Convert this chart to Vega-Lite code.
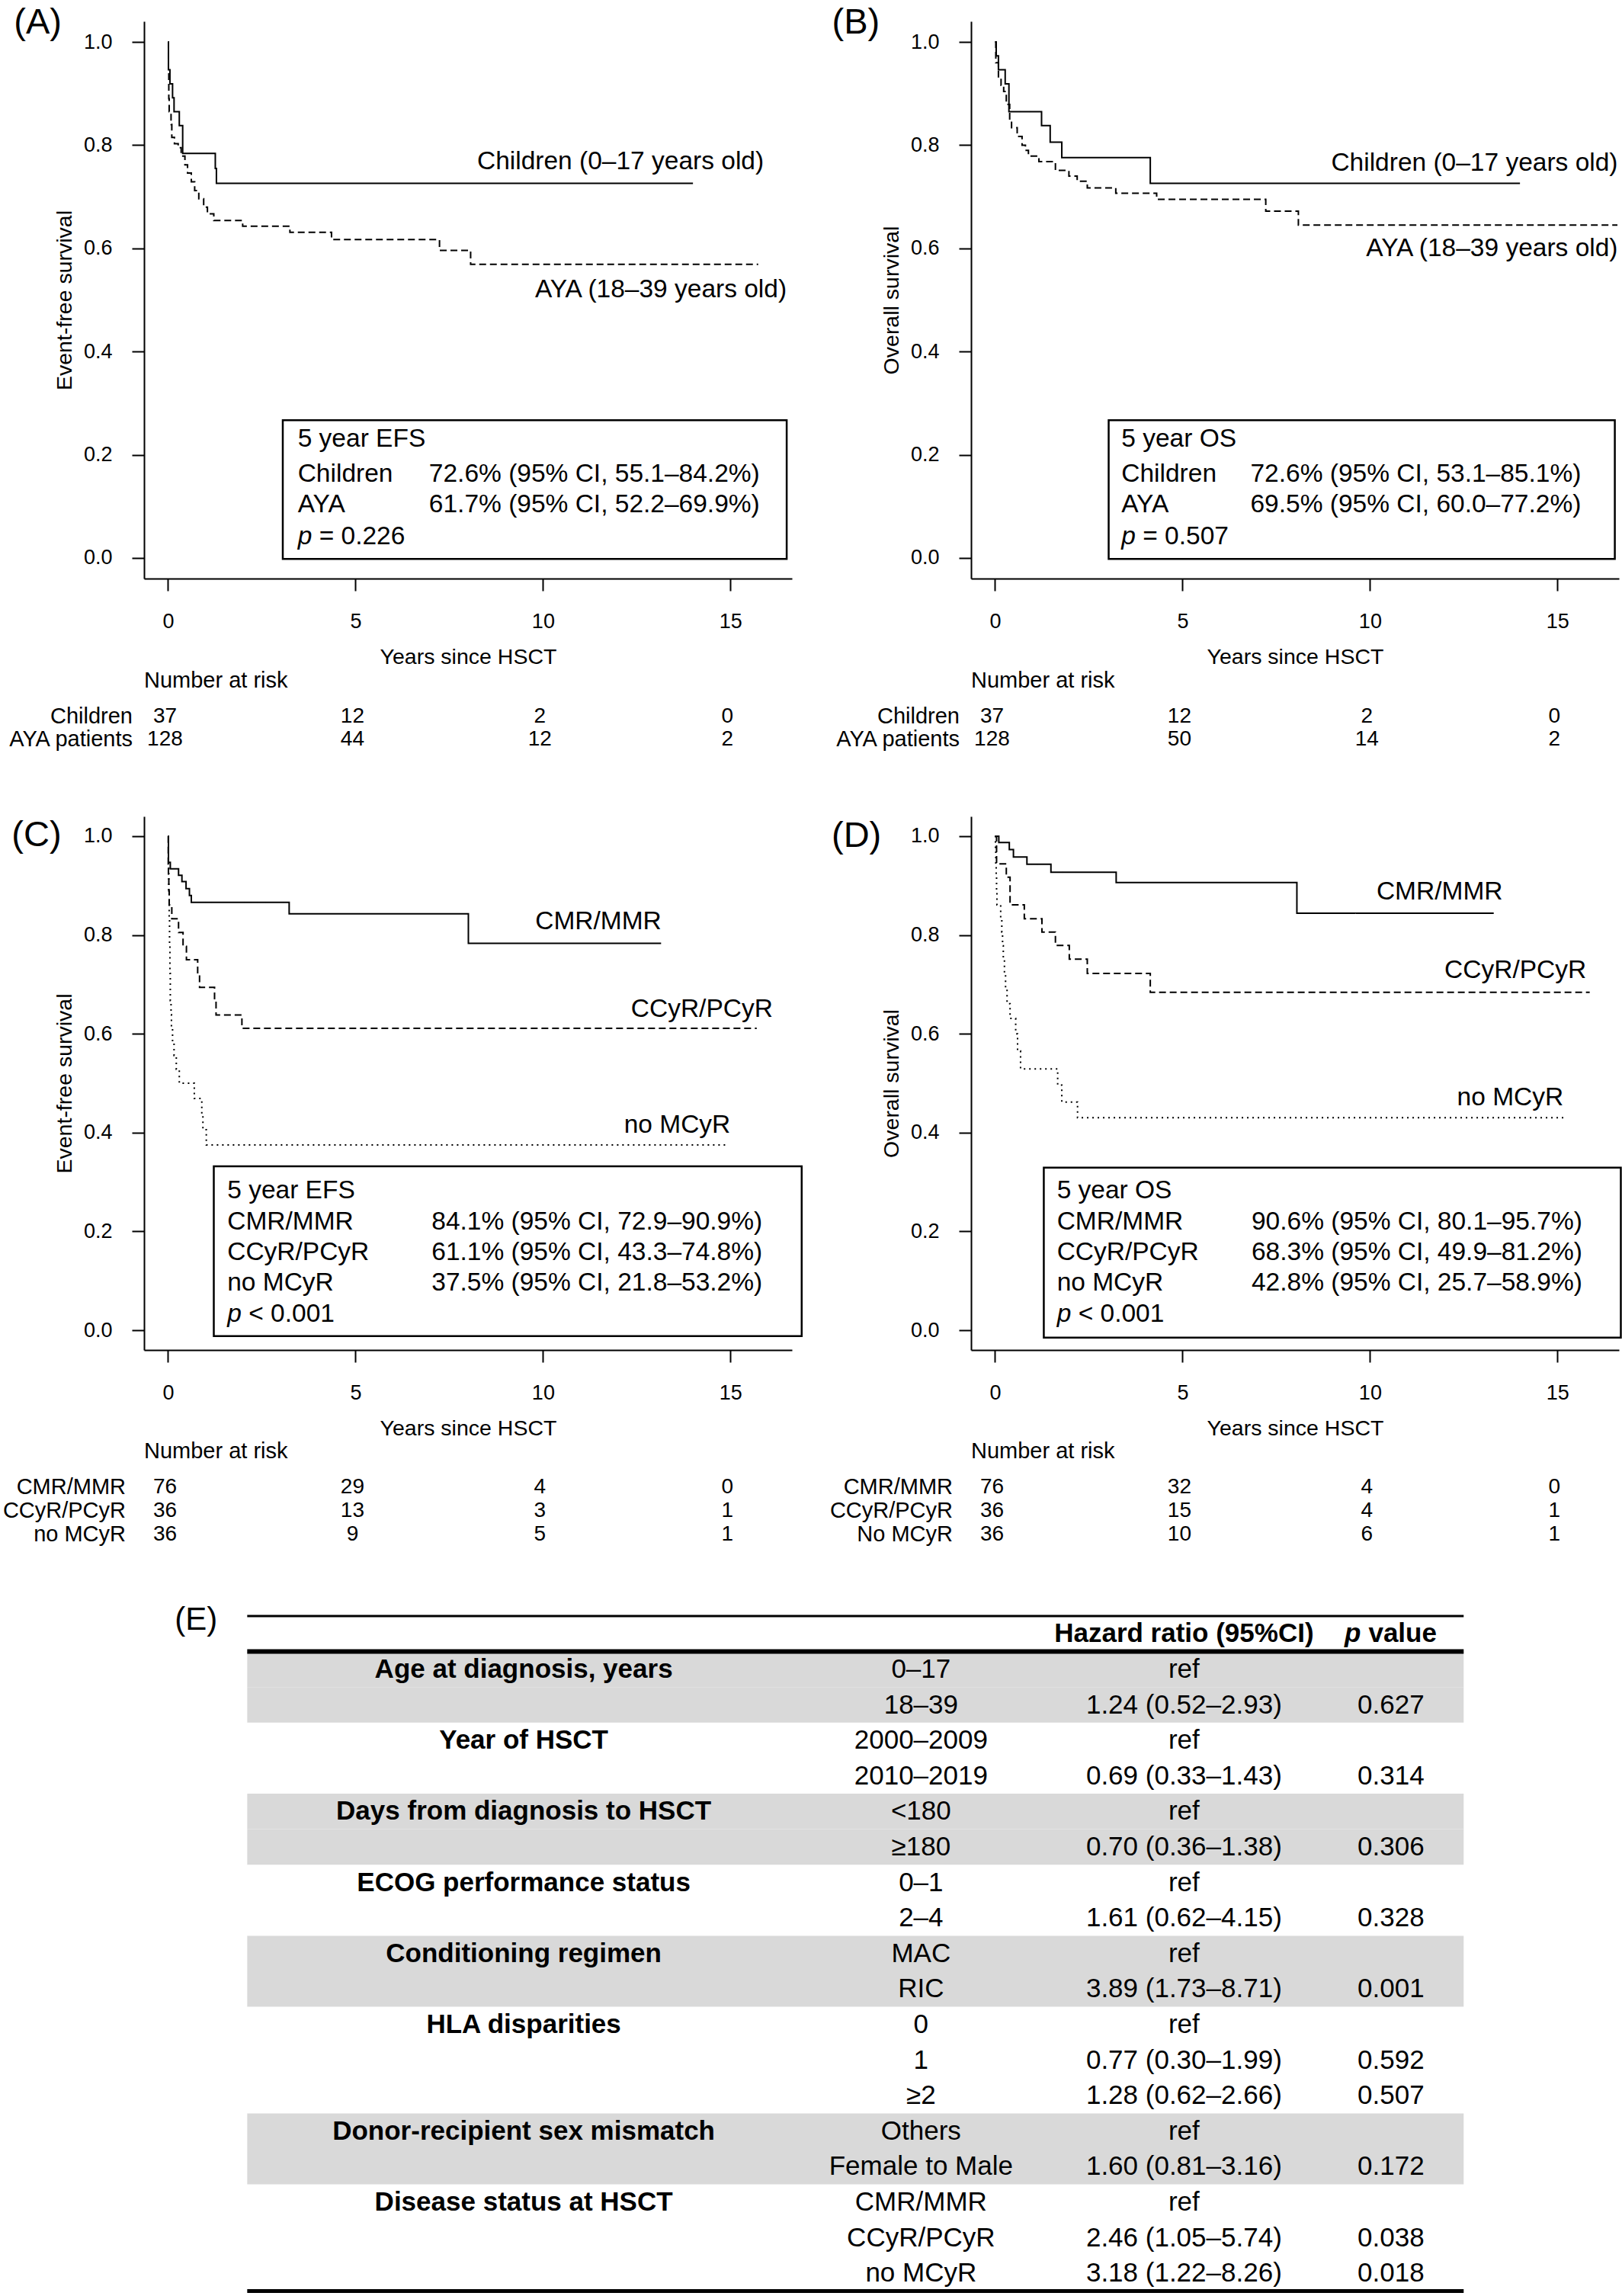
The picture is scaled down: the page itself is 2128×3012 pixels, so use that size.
{
  "$schema": "https://vega.github.io/schema/vega-lite/v6.json",
  "background": "white",
  "padding": {"left": 3, "top": 6, "right": 0, "bottom": 0},
  "columns": 2,
  "align": "none",
  "bounds": "flush",
  "spacing": {"row": 312, "column": 235},
  "datasets": {
    "curves": [
      {"panel":"A","group":"Children","t":0,"s":1},{"panel":"A","group":"Children","t":0.01,"s":0.946},{"panel":"A","group":"Children","t":0.05,"s":0.919},{"panel":"A","group":"Children","t":0.12,"s":0.892},{"panel":"A","group":"Children","t":0.16,"s":0.865},{"panel":"A","group":"Children","t":0.30,"s":0.838},{"panel":"A","group":"Children","t":0.39,"s":0.784},{"panel":"A","group":"Children","t":1.26,"s":0.755},{"panel":"A","group":"Children","t":1.29,"s":0.726},{"panel":"A","group":"Children","t":14.0,"s":0.726},
      {"panel":"A","group":"AYA","t":0,"s":1},{"panel":"A","group":"AYA","t":0.01,"s":0.94},{"panel":"A","group":"AYA","t":0.02,"s":0.89},{"panel":"A","group":"AYA","t":0.03,"s":0.865},{"panel":"A","group":"AYA","t":0.08,"s":0.84},{"panel":"A","group":"AYA","t":0.10,"s":0.815},{"panel":"A","group":"AYA","t":0.17,"s":0.803},{"panel":"A","group":"AYA","t":0.27,"s":0.795},{"panel":"A","group":"AYA","t":0.35,"s":0.779},{"panel":"A","group":"AYA","t":0.45,"s":0.762},{"panel":"A","group":"AYA","t":0.52,"s":0.746},{"panel":"A","group":"AYA","t":0.62,"s":0.729},{"panel":"A","group":"AYA","t":0.71,"s":0.712},{"panel":"A","group":"AYA","t":0.82,"s":0.696},{"panel":"A","group":"AYA","t":0.95,"s":0.680},{"panel":"A","group":"AYA","t":1.05,"s":0.667},{"panel":"A","group":"AYA","t":1.22,"s":0.654},{"panel":"A","group":"AYA","t":1.99,"s":0.643},{"panel":"A","group":"AYA","t":3.25,"s":0.631},{"panel":"A","group":"AYA","t":4.36,"s":0.617},{"panel":"A","group":"AYA","t":7.24,"s":0.596},{"panel":"A","group":"AYA","t":8.07,"s":0.569},{"panel":"A","group":"AYA","t":15.74,"s":0.569},
      {"panel":"B","group":"Children","t":0,"s":1},{"panel":"B","group":"Children","t":0.03,"s":0.973},{"panel":"B","group":"Children","t":0.09,"s":0.946},{"panel":"B","group":"Children","t":0.27,"s":0.919},{"panel":"B","group":"Children","t":0.37,"s":0.865},{"panel":"B","group":"Children","t":1.24,"s":0.838},{"panel":"B","group":"Children","t":1.47,"s":0.806},{"panel":"B","group":"Children","t":1.78,"s":0.776},{"panel":"B","group":"Children","t":4.14,"s":0.726},{"panel":"B","group":"Children","t":14.0,"s":0.726},
      {"panel":"B","group":"AYA","t":0,"s":1},{"panel":"B","group":"AYA","t":0.02,"s":0.96},{"panel":"B","group":"AYA","t":0.09,"s":0.931},{"panel":"B","group":"AYA","t":0.16,"s":0.916},{"panel":"B","group":"AYA","t":0.23,"s":0.904},{"panel":"B","group":"AYA","t":0.30,"s":0.879},{"panel":"B","group":"AYA","t":0.39,"s":0.849},{"panel":"B","group":"AYA","t":0.44,"s":0.834},{"panel":"B","group":"AYA","t":0.59,"s":0.817},{"panel":"B","group":"AYA","t":0.72,"s":0.800},{"panel":"B","group":"AYA","t":0.81,"s":0.790},{"panel":"B","group":"AYA","t":0.89,"s":0.779},{"panel":"B","group":"AYA","t":1.17,"s":0.768},{"panel":"B","group":"AYA","t":1.61,"s":0.751},{"panel":"B","group":"AYA","t":1.97,"s":0.740},{"panel":"B","group":"AYA","t":2.19,"s":0.730},{"panel":"B","group":"AYA","t":2.46,"s":0.717},{"panel":"B","group":"AYA","t":3.22,"s":0.707},{"panel":"B","group":"AYA","t":4.31,"s":0.695},{"panel":"B","group":"AYA","t":7.22,"s":0.672},{"panel":"B","group":"AYA","t":8.09,"s":0.645},{"panel":"B","group":"AYA","t":16.6,"s":0.645},
      {"panel":"C","group":"CMR/MMR","t":0,"s":1},{"panel":"C","group":"CMR/MMR","t":0.01,"s":0.947},{"panel":"C","group":"CMR/MMR","t":0.06,"s":0.934},{"panel":"C","group":"CMR/MMR","t":0.28,"s":0.921},{"panel":"C","group":"CMR/MMR","t":0.37,"s":0.908},{"panel":"C","group":"CMR/MMR","t":0.48,"s":0.894},{"panel":"C","group":"CMR/MMR","t":0.57,"s":0.880},{"panel":"C","group":"CMR/MMR","t":0.62,"s":0.866},{"panel":"C","group":"CMR/MMR","t":3.23,"s":0.843},{"panel":"C","group":"CMR/MMR","t":8.01,"s":0.783},{"panel":"C","group":"CMR/MMR","t":13.15,"s":0.783},
      {"panel":"C","group":"CCyR/PCyR","t":0,"s":1},{"panel":"C","group":"CCyR/PCyR","t":0.005,"s":0.944},{"panel":"C","group":"CCyR/PCyR","t":0.01,"s":0.917},{"panel":"C","group":"CCyR/PCyR","t":0.02,"s":0.889},{"panel":"C","group":"CCyR/PCyR","t":0.03,"s":0.861},{"panel":"C","group":"CCyR/PCyR","t":0.10,"s":0.833},{"panel":"C","group":"CCyR/PCyR","t":0.28,"s":0.805},{"panel":"C","group":"CCyR/PCyR","t":0.40,"s":0.777},{"panel":"C","group":"CCyR/PCyR","t":0.49,"s":0.750},{"panel":"C","group":"CCyR/PCyR","t":0.79,"s":0.722},{"panel":"C","group":"CCyR/PCyR","t":0.84,"s":0.694},{"panel":"C","group":"CCyR/PCyR","t":1.24,"s":0.666},{"panel":"C","group":"CCyR/PCyR","t":1.28,"s":0.638},{"panel":"C","group":"CCyR/PCyR","t":1.97,"s":0.611},{"panel":"C","group":"CCyR/PCyR","t":15.7,"s":0.611},
      {"panel":"C","group":"no MCyR","t":0,"s":1},{"panel":"C","group":"no MCyR","t":0.01,"s":0.944},{"panel":"C","group":"no MCyR","t":0.02,"s":0.889},{"panel":"C","group":"no MCyR","t":0.03,"s":0.833},{"panel":"C","group":"no MCyR","t":0.04,"s":0.778},{"panel":"C","group":"no MCyR","t":0.05,"s":0.722},{"panel":"C","group":"no MCyR","t":0.06,"s":0.667},{"panel":"C","group":"no MCyR","t":0.08,"s":0.639},{"panel":"C","group":"no MCyR","t":0.09,"s":0.611},{"panel":"C","group":"no MCyR","t":0.12,"s":0.583},{"panel":"C","group":"no MCyR","t":0.16,"s":0.556},{"panel":"C","group":"no MCyR","t":0.22,"s":0.528},{"panel":"C","group":"no MCyR","t":0.30,"s":0.500},{"panel":"C","group":"no MCyR","t":0.70,"s":0.469},{"panel":"C","group":"no MCyR","t":0.90,"s":0.438},{"panel":"C","group":"no MCyR","t":0.93,"s":0.406},{"panel":"C","group":"no MCyR","t":1.02,"s":0.375},{"panel":"C","group":"no MCyR","t":14.96,"s":0.375},
      {"panel":"D","group":"CMR/MMR","t":0,"s":1},{"panel":"D","group":"CMR/MMR","t":0.10,"s":0.987},{"panel":"D","group":"CMR/MMR","t":0.38,"s":0.973},{"panel":"D","group":"CMR/MMR","t":0.49,"s":0.958},{"panel":"D","group":"CMR/MMR","t":0.85,"s":0.943},{"panel":"D","group":"CMR/MMR","t":1.49,"s":0.927},{"panel":"D","group":"CMR/MMR","t":3.23,"s":0.906},{"panel":"D","group":"CMR/MMR","t":8.05,"s":0.844},{"panel":"D","group":"CMR/MMR","t":13.3,"s":0.844},
      {"panel":"D","group":"CCyR/PCyR","t":0,"s":1},{"panel":"D","group":"CCyR/PCyR","t":0.04,"s":0.944},{"panel":"D","group":"CCyR/PCyR","t":0.30,"s":0.917},{"panel":"D","group":"CCyR/PCyR","t":0.40,"s":0.861},{"panel":"D","group":"CCyR/PCyR","t":0.78,"s":0.833},{"panel":"D","group":"CCyR/PCyR","t":1.25,"s":0.806},{"panel":"D","group":"CCyR/PCyR","t":1.61,"s":0.779},{"panel":"D","group":"CCyR/PCyR","t":1.98,"s":0.751},{"panel":"D","group":"CCyR/PCyR","t":2.46,"s":0.722},{"panel":"D","group":"CCyR/PCyR","t":4.14,"s":0.684},{"panel":"D","group":"CCyR/PCyR","t":15.86,"s":0.684},
      {"panel":"D","group":"no MCyR","t":0,"s":1},{"panel":"D","group":"no MCyR","t":0.01,"s":0.972},{"panel":"D","group":"no MCyR","t":0.02,"s":0.944},{"panel":"D","group":"no MCyR","t":0.03,"s":0.917},{"panel":"D","group":"no MCyR","t":0.04,"s":0.889},{"panel":"D","group":"no MCyR","t":0.05,"s":0.861},{"panel":"D","group":"no MCyR","t":0.15,"s":0.833},{"panel":"D","group":"no MCyR","t":0.18,"s":0.806},{"panel":"D","group":"no MCyR","t":0.20,"s":0.778},{"panel":"D","group":"no MCyR","t":0.22,"s":0.750},{"panel":"D","group":"no MCyR","t":0.25,"s":0.722},{"panel":"D","group":"no MCyR","t":0.28,"s":0.694},{"panel":"D","group":"no MCyR","t":0.32,"s":0.661},{"panel":"D","group":"no MCyR","t":0.40,"s":0.631},{"panel":"D","group":"no MCyR","t":0.55,"s":0.600},{"panel":"D","group":"no MCyR","t":0.60,"s":0.565},{"panel":"D","group":"no MCyR","t":0.68,"s":0.529},{"panel":"D","group":"no MCyR","t":1.67,"s":0.496},{"panel":"D","group":"no MCyR","t":1.78,"s":0.462},{"panel":"D","group":"no MCyR","t":2.20,"s":0.430},{"panel":"D","group":"no MCyR","t":15.25,"s":0.430}
    ],
    "risk": [
      {"panel":"A","group":"Children","t":0,"n":37},{"panel":"A","group":"Children","t":5,"n":12},{"panel":"A","group":"Children","t":10,"n":2},{"panel":"A","group":"Children","t":15,"n":0},
      {"panel":"A","group":"AYA patients","t":0,"n":128},{"panel":"A","group":"AYA patients","t":5,"n":44},{"panel":"A","group":"AYA patients","t":10,"n":12},{"panel":"A","group":"AYA patients","t":15,"n":2},
      {"panel":"B","group":"Children","t":0,"n":37},{"panel":"B","group":"Children","t":5,"n":12},{"panel":"B","group":"Children","t":10,"n":2},{"panel":"B","group":"Children","t":15,"n":0},
      {"panel":"B","group":"AYA patients","t":0,"n":128},{"panel":"B","group":"AYA patients","t":5,"n":50},{"panel":"B","group":"AYA patients","t":10,"n":14},{"panel":"B","group":"AYA patients","t":15,"n":2},
      {"panel":"C","group":"CMR/MMR","t":0,"n":76},{"panel":"C","group":"CMR/MMR","t":5,"n":29},{"panel":"C","group":"CMR/MMR","t":10,"n":4},{"panel":"C","group":"CMR/MMR","t":15,"n":0},
      {"panel":"C","group":"CCyR/PCyR","t":0,"n":36},{"panel":"C","group":"CCyR/PCyR","t":5,"n":13},{"panel":"C","group":"CCyR/PCyR","t":10,"n":3},{"panel":"C","group":"CCyR/PCyR","t":15,"n":1},
      {"panel":"C","group":"no MCyR","t":0,"n":36},{"panel":"C","group":"no MCyR","t":5,"n":9},{"panel":"C","group":"no MCyR","t":10,"n":5},{"panel":"C","group":"no MCyR","t":15,"n":1},
      {"panel":"D","group":"CMR/MMR","t":0,"n":76},{"panel":"D","group":"CMR/MMR","t":5,"n":32},{"panel":"D","group":"CMR/MMR","t":10,"n":4},{"panel":"D","group":"CMR/MMR","t":15,"n":0},
      {"panel":"D","group":"CCyR/PCyR","t":0,"n":36},{"panel":"D","group":"CCyR/PCyR","t":5,"n":15},{"panel":"D","group":"CCyR/PCyR","t":10,"n":4},{"panel":"D","group":"CCyR/PCyR","t":15,"n":1},
      {"panel":"D","group":"No MCyR","t":0,"n":36},{"panel":"D","group":"No MCyR","t":5,"n":10},{"panel":"D","group":"No MCyR","t":10,"n":6},{"panel":"D","group":"No MCyR","t":15,"n":1}
    ],
    "table": [
      {"rid":"r01","var":"Age at diagnosis, years","cat":"0–17","hr":"ref","p":"","shade":true},
      {"rid":"r02","var":"","cat":"18–39","hr":"1.24 (0.52–2.93)","p":"0.627","shade":true},
      {"rid":"r03","var":"Year of HSCT","cat":"2000–2009","hr":"ref","p":"","shade":false},
      {"rid":"r04","var":"","cat":"2010–2019","hr":"0.69 (0.33–1.43)","p":"0.314","shade":false},
      {"rid":"r05","var":"Days from diagnosis to HSCT","cat":"<180","hr":"ref","p":"","shade":true},
      {"rid":"r06","var":"","cat":"≥180","hr":"0.70 (0.36–1.38)","p":"0.306","shade":true},
      {"rid":"r07","var":"ECOG performance status","cat":"0–1","hr":"ref","p":"","shade":false},
      {"rid":"r08","var":"","cat":"2–4","hr":"1.61 (0.62–4.15)","p":"0.328","shade":false},
      {"rid":"r09","var":"Conditioning regimen","cat":"MAC","hr":"ref","p":"","shade":true},
      {"rid":"r10","var":"","cat":"RIC","hr":"3.89 (1.73–8.71)","p":"0.001","shade":true},
      {"rid":"r11","var":"HLA disparities","cat":"0","hr":"ref","p":"","shade":false},
      {"rid":"r12","var":"","cat":"1","hr":"0.77 (0.30–1.99)","p":"0.592","shade":false},
      {"rid":"r13","var":"","cat":"≥2","hr":"1.28 (0.62–2.66)","p":"0.507","shade":false},
      {"rid":"r14","var":"Donor-recipient sex mismatch","cat":"Others","hr":"ref","p":"","shade":true},
      {"rid":"r15","var":"","cat":"Female to Male","hr":"1.60 (0.81–3.16)","p":"0.172","shade":true},
      {"rid":"r16","var":"Disease status at HSCT","cat":"CMR/MMR","hr":"ref","p":"","shade":false},
      {"rid":"r17","var":"","cat":"CCyR/PCyR","hr":"2.46 (1.05–5.74)","p":"0.038","shade":false},
      {"rid":"r18","var":"","cat":"no MCyR","hr":"3.18 (1.22–8.26)","p":"0.018","shade":false}
    ]
  },
  "concat": [
    {
      "width": 850, "height": 731,
      "layer": [
        {"data": {"name": "curves"}, "transform": [{"filter": "datum.panel === 'A'"}],
         "mark": {"type": "line", "interpolate": "step-after", "strokeWidth": 2, "color": "black"},
         "encoding": {
           "x": {"field": "t", "type": "quantitative", "scale": {"domain": [-0.64, 16.64], "nice": false, "zero": false}, "axis": {"values": [0, 5, 10, 15], "title": "Years since HSCT"}},
           "y": {"field": "s", "type": "quantitative", "scale": {"domain": [-0.04, 1.04], "nice": false, "zero": false}, "axis": {"values": [0, 0.2, 0.4, 0.6, 0.8, 1], "format": ".1f", "title": "Event-free survival"}},
           "strokeDash": {"field": "group", "type": "nominal", "scale": {"domain": ["Children", "AYA", "CMR/MMR", "CCyR/PCyR", "no MCyR"], "range": [[1, 0], [9, 5], [1, 0], [9, 5], [2, 5]]}, "legend": null}
         }},
        {"data": {"values": [{}]}, "mark": {"type": "text", "align": "right"}, "encoding": {"x": {"datum": 15.89}, "y": {"datum": 0.768}, "text": {"value": "Children (0–17 years old)"}}},
        {"data": {"values": [{}]}, "mark": {"type": "text", "align": "right"}, "encoding": {"x": {"datum": 16.5}, "y": {"datum": 0.52}, "text": {"value": "AYA (18–39 years old)"}}},
        {"data": {"values": [{}]}, "mark": {"type": "rect", "fill": "white", "stroke": "black", "strokeWidth": 2.5}, "encoding": {"x": {"datum": 3.06}, "x2": {"datum": 16.5}, "y": {"datum": 0.267}, "y2": {"datum": -0.002}}},
        {"data": {"values": [{}]}, "mark": {"type": "text", "align": "left"}, "encoding": {"x": {"datum": 3.46}, "y": {"datum": 0.2298}, "text": {"value": "5 year EFS"}}},
        {"data": {"values": [{}]}, "mark": {"type": "text", "align": "left"}, "encoding": {"x": {"datum": 3.46}, "y": {"datum": 0.1618}, "text": {"value": "Children"}}},
        {"data": {"values": [{}]}, "mark": {"type": "text", "align": "left"}, "encoding": {"x": {"datum": 6.96}, "y": {"datum": 0.1618}, "text": {"value": "72.6% (95% CI, 55.1–84.2%)"}}},
        {"data": {"values": [{}]}, "mark": {"type": "text", "align": "left"}, "encoding": {"x": {"datum": 3.46}, "y": {"datum": 0.1027}, "text": {"value": "AYA"}}},
        {"data": {"values": [{}]}, "mark": {"type": "text", "align": "left"}, "encoding": {"x": {"datum": 6.96}, "y": {"datum": 0.1027}, "text": {"value": "61.7% (95% CI, 52.2–69.9%)"}}},
        {"data": {"values": [{}]}, "mark": {"type": "text", "align": "left", "fontStyle": "italic"}, "encoding": {"x": {"datum": 3.46}, "y": {"datum": 0.0412}, "text": {"value": "p"}}},
        {"data": {"values": [{}]}, "mark": {"type": "text", "align": "left", "dx": 28}, "encoding": {"x": {"datum": 3.46}, "y": {"datum": 0.0412}, "text": {"value": "= 0.226"}}},
        {"data": {"values": [{}]}, "mark": {"type": "text", "align": "left", "fontSize": 47}, "encoding": {"x": {"datum": -4.11}, "y": {"datum": 1.037}, "text": {"value": "(A)"}}},
        {"data": {"values": [{}]}, "mark": {"type": "text", "align": "left", "fontSize": 29}, "encoding": {"x": {"datum": -0.64}, "y": {"datum": -0.238}, "text": {"value": "Number at risk"}}},
        {"data": {"values": [{}]}, "mark": {"type": "text", "align": "right", "fontSize": 29, "dx": -15}, "encoding": {"x": {"datum": -0.64}, "y": {"datum": -0.3074}, "text": {"value": "Children"}}},
        {"data": {"values": [{}]}, "mark": {"type": "text", "align": "right", "fontSize": 29, "dx": -15}, "encoding": {"x": {"datum": -0.64}, "y": {"datum": -0.351}, "text": {"value": "AYA patients"}}},
        {"data": {"name": "risk"}, "transform": [{"filter": "datum.panel === 'A' && datum.group === 'Children'"}], "mark": {"type": "text", "fontSize": 28, "dx": -4}, "encoding": {"x": {"field": "t", "type": "quantitative"}, "y": {"datum": -0.3074}, "text": {"field": "n"}}},
        {"data": {"name": "risk"}, "transform": [{"filter": "datum.panel === 'A' && datum.group === 'AYA patients'"}], "mark": {"type": "text", "fontSize": 28, "dx": -4}, "encoding": {"x": {"field": "t", "type": "quantitative"}, "y": {"datum": -0.351}, "text": {"field": "n"}}}
      ]
    },
    {
      "width": 850, "height": 731,
      "layer": [
        {"data": {"name": "curves"}, "transform": [{"filter": "datum.panel === 'B'"}],
         "mark": {"type": "line", "interpolate": "step-after", "strokeWidth": 2, "color": "black"},
         "encoding": {
           "x": {"field": "t", "type": "quantitative", "scale": {"domain": [-0.64, 16.64], "nice": false, "zero": false}, "axis": {"values": [0, 5, 10, 15], "title": "Years since HSCT"}},
           "y": {"field": "s", "type": "quantitative", "scale": {"domain": [-0.04, 1.04], "nice": false, "zero": false}, "axis": {"values": [0, 0.2, 0.4, 0.6, 0.8, 1], "format": ".1f", "title": "Overall survival"}},
           "strokeDash": {"field": "group", "type": "nominal", "scale": {"domain": ["Children", "AYA", "CMR/MMR", "CCyR/PCyR", "no MCyR"], "range": [[1, 0], [9, 5], [1, 0], [9, 5], [2, 5]]}, "legend": null}
         }},
        {"data": {"values": [{}]}, "mark": {"type": "text", "align": "right"}, "encoding": {"x": {"datum": 16.61}, "y": {"datum": 0.765}, "text": {"value": "Children (0–17 years old)"}}},
        {"data": {"values": [{}]}, "mark": {"type": "text", "align": "right"}, "encoding": {"x": {"datum": 16.61}, "y": {"datum": 0.6}, "text": {"value": "AYA (18–39 years old)"}}},
        {"data": {"values": [{}]}, "mark": {"type": "rect", "fill": "white", "stroke": "black", "strokeWidth": 2.5}, "encoding": {"x": {"datum": 3.03}, "x2": {"datum": 16.53}, "y": {"datum": 0.267}, "y2": {"datum": -0.002}}},
        {"data": {"values": [{}]}, "mark": {"type": "text", "align": "left"}, "encoding": {"x": {"datum": 3.37}, "y": {"datum": 0.2298}, "text": {"value": "5 year OS"}}},
        {"data": {"values": [{}]}, "mark": {"type": "text", "align": "left"}, "encoding": {"x": {"datum": 3.37}, "y": {"datum": 0.1618}, "text": {"value": "Children"}}},
        {"data": {"values": [{}]}, "mark": {"type": "text", "align": "left"}, "encoding": {"x": {"datum": 6.81}, "y": {"datum": 0.1618}, "text": {"value": "72.6% (95% CI, 53.1–85.1%)"}}},
        {"data": {"values": [{}]}, "mark": {"type": "text", "align": "left"}, "encoding": {"x": {"datum": 3.37}, "y": {"datum": 0.1027}, "text": {"value": "AYA"}}},
        {"data": {"values": [{}]}, "mark": {"type": "text", "align": "left"}, "encoding": {"x": {"datum": 6.81}, "y": {"datum": 0.1027}, "text": {"value": "69.5% (95% CI, 60.0–77.2%)"}}},
        {"data": {"values": [{}]}, "mark": {"type": "text", "align": "left", "fontStyle": "italic"}, "encoding": {"x": {"datum": 3.37}, "y": {"datum": 0.0412}, "text": {"value": "p"}}},
        {"data": {"values": [{}]}, "mark": {"type": "text", "align": "left", "dx": 28}, "encoding": {"x": {"datum": 3.37}, "y": {"datum": 0.0412}, "text": {"value": "= 0.507"}}},
        {"data": {"values": [{}]}, "mark": {"type": "text", "align": "left", "fontSize": 47}, "encoding": {"x": {"datum": -4.35}, "y": {"datum": 1.037}, "text": {"value": "(B)"}}},
        {"data": {"values": [{}]}, "mark": {"type": "text", "align": "left", "fontSize": 29}, "encoding": {"x": {"datum": -0.64}, "y": {"datum": -0.238}, "text": {"value": "Number at risk"}}},
        {"data": {"values": [{}]}, "mark": {"type": "text", "align": "right", "fontSize": 29, "dx": -15}, "encoding": {"x": {"datum": -0.64}, "y": {"datum": -0.3074}, "text": {"value": "Children"}}},
        {"data": {"values": [{}]}, "mark": {"type": "text", "align": "right", "fontSize": 29, "dx": -15}, "encoding": {"x": {"datum": -0.64}, "y": {"datum": -0.351}, "text": {"value": "AYA patients"}}},
        {"data": {"name": "risk"}, "transform": [{"filter": "datum.panel === 'B' && datum.group === 'Children'"}], "mark": {"type": "text", "fontSize": 28, "dx": -4}, "encoding": {"x": {"field": "t", "type": "quantitative"}, "y": {"datum": -0.3074}, "text": {"field": "n"}}},
        {"data": {"name": "risk"}, "transform": [{"filter": "datum.panel === 'B' && datum.group === 'AYA patients'"}], "mark": {"type": "text", "fontSize": 28, "dx": -4}, "encoding": {"x": {"field": "t", "type": "quantitative"}, "y": {"datum": -0.351}, "text": {"field": "n"}}}
      ]
    },
    {
      "width": 850, "height": 700,
      "layer": [
        {"data": {"name": "curves"}, "transform": [{"filter": "datum.panel === 'C'"}],
         "mark": {"type": "line", "interpolate": "step-after", "strokeWidth": 2, "color": "black"},
         "encoding": {
           "x": {"field": "t", "type": "quantitative", "scale": {"domain": [-0.64, 16.64], "nice": false, "zero": false}, "axis": {"values": [0, 5, 10, 15], "title": "Years since HSCT"}},
           "y": {"field": "s", "type": "quantitative", "scale": {"domain": [-0.04, 1.04], "nice": false, "zero": false}, "axis": {"values": [0, 0.2, 0.4, 0.6, 0.8, 1], "format": ".1f", "title": "Event-free survival"}},
           "strokeDash": {"field": "group", "type": "nominal", "scale": {"domain": ["Children", "AYA", "CMR/MMR", "CCyR/PCyR", "no MCyR"], "range": [[1, 0], [9, 5], [1, 0], [9, 5], [2, 5]]}, "legend": null}
         }},
        {"data": {"values": [{}]}, "mark": {"type": "text", "align": "right"}, "encoding": {"x": {"datum": 13.16}, "y": {"datum": 0.827}, "text": {"value": "CMR/MMR"}}},
        {"data": {"values": [{}]}, "mark": {"type": "text", "align": "right"}, "encoding": {"x": {"datum": 16.13}, "y": {"datum": 0.649}, "text": {"value": "CCyR/PCyR"}}},
        {"data": {"values": [{}]}, "mark": {"type": "text", "align": "right"}, "encoding": {"x": {"datum": 15.0}, "y": {"datum": 0.415}, "text": {"value": "no MCyR"}}},
        {"data": {"values": [{}]}, "mark": {"type": "rect", "fill": "white", "stroke": "black", "strokeWidth": 2.5}, "encoding": {"x": {"datum": 1.22}, "x2": {"datum": 16.9}, "y": {"datum": 0.332}, "y2": {"datum": -0.012}}},
        {"data": {"values": [{}]}, "mark": {"type": "text", "align": "left"}, "encoding": {"x": {"datum": 1.58}, "y": {"datum": 0.2817}, "text": {"value": "5 year EFS"}}},
        {"data": {"values": [{}]}, "mark": {"type": "text", "align": "left"}, "encoding": {"x": {"datum": 1.58}, "y": {"datum": 0.2195}, "text": {"value": "CMR/MMR"}}},
        {"data": {"values": [{}]}, "mark": {"type": "text", "align": "left"}, "encoding": {"x": {"datum": 7.03}, "y": {"datum": 0.2195}, "text": {"value": "84.1% (95% CI, 72.9–90.9%)"}}},
        {"data": {"values": [{}]}, "mark": {"type": "text", "align": "left"}, "encoding": {"x": {"datum": 1.58}, "y": {"datum": 0.1573}, "text": {"value": "CCyR/PCyR"}}},
        {"data": {"values": [{}]}, "mark": {"type": "text", "align": "left"}, "encoding": {"x": {"datum": 7.03}, "y": {"datum": 0.1573}, "text": {"value": "61.1% (95% CI, 43.3–74.8%)"}}},
        {"data": {"values": [{}]}, "mark": {"type": "text", "align": "left"}, "encoding": {"x": {"datum": 1.58}, "y": {"datum": 0.0951}, "text": {"value": "no MCyR"}}},
        {"data": {"values": [{}]}, "mark": {"type": "text", "align": "left"}, "encoding": {"x": {"datum": 7.03}, "y": {"datum": 0.0951}, "text": {"value": "37.5% (95% CI, 21.8–53.2%)"}}},
        {"data": {"values": [{}]}, "mark": {"type": "text", "align": "left", "fontStyle": "italic"}, "encoding": {"x": {"datum": 1.58}, "y": {"datum": 0.0329}, "text": {"value": "p"}}},
        {"data": {"values": [{}]}, "mark": {"type": "text", "align": "left", "dx": 28}, "encoding": {"x": {"datum": 1.58}, "y": {"datum": 0.0329}, "text": {"value": "< 0.001"}}},
        {"data": {"values": [{}]}, "mark": {"type": "text", "align": "left", "fontSize": 47}, "encoding": {"x": {"datum": -4.17}, "y": {"datum": 1.002}, "text": {"value": "(C)"}}},
        {"data": {"values": [{}]}, "mark": {"type": "text", "align": "left", "fontSize": 29}, "encoding": {"x": {"datum": -0.64}, "y": {"datum": -0.2452}, "text": {"value": "Number at risk"}}},
        {"data": {"values": [{}]}, "mark": {"type": "text", "align": "right", "fontSize": 29, "dx": -24}, "encoding": {"x": {"datum": -0.64}, "y": {"datum": -0.3177}, "text": {"value": "CMR/MMR"}}},
        {"data": {"values": [{}]}, "mark": {"type": "text", "align": "right", "fontSize": 29, "dx": -24}, "encoding": {"x": {"datum": -0.64}, "y": {"datum": -0.3654}, "text": {"value": "CCyR/PCyR"}}},
        {"data": {"values": [{}]}, "mark": {"type": "text", "align": "right", "fontSize": 29, "dx": -24}, "encoding": {"x": {"datum": -0.64}, "y": {"datum": -0.4132}, "text": {"value": "no MCyR"}}},
        {"data": {"name": "risk"}, "transform": [{"filter": "datum.panel === 'C' && datum.group === 'CMR/MMR'"}], "mark": {"type": "text", "fontSize": 28, "dx": -4}, "encoding": {"x": {"field": "t", "type": "quantitative"}, "y": {"datum": -0.3177}, "text": {"field": "n"}}},
        {"data": {"name": "risk"}, "transform": [{"filter": "datum.panel === 'C' && datum.group === 'CCyR/PCyR'"}], "mark": {"type": "text", "fontSize": 28, "dx": -4}, "encoding": {"x": {"field": "t", "type": "quantitative"}, "y": {"datum": -0.3654}, "text": {"field": "n"}}},
        {"data": {"name": "risk"}, "transform": [{"filter": "datum.panel === 'C' && datum.group === 'no MCyR'"}], "mark": {"type": "text", "fontSize": 28, "dx": -4}, "encoding": {"x": {"field": "t", "type": "quantitative"}, "y": {"datum": -0.4132}, "text": {"field": "n"}}}
      ]
    },
    {
      "width": 850, "height": 700,
      "layer": [
        {"data": {"name": "curves"}, "transform": [{"filter": "datum.panel === 'D'"}],
         "mark": {"type": "line", "interpolate": "step-after", "strokeWidth": 2, "color": "black"},
         "encoding": {
           "x": {"field": "t", "type": "quantitative", "scale": {"domain": [-0.64, 16.64], "nice": false, "zero": false}, "axis": {"values": [0, 5, 10, 15], "title": "Years since HSCT"}},
           "y": {"field": "s", "type": "quantitative", "scale": {"domain": [-0.04, 1.04], "nice": false, "zero": false}, "axis": {"values": [0, 0.2, 0.4, 0.6, 0.8, 1], "format": ".1f", "title": "Overall survival"}},
           "strokeDash": {"field": "group", "type": "nominal", "scale": {"domain": ["Children", "AYA", "CMR/MMR", "CCyR/PCyR", "no MCyR"], "range": [[1, 0], [9, 5], [1, 0], [9, 5], [2, 5]]}, "legend": null}
         }},
        {"data": {"values": [{}]}, "mark": {"type": "text", "align": "right"}, "encoding": {"x": {"datum": 13.54}, "y": {"datum": 0.887}, "text": {"value": "CMR/MMR"}}},
        {"data": {"values": [{}]}, "mark": {"type": "text", "align": "right"}, "encoding": {"x": {"datum": 15.77}, "y": {"datum": 0.728}, "text": {"value": "CCyR/PCyR"}}},
        {"data": {"values": [{}]}, "mark": {"type": "text", "align": "right"}, "encoding": {"x": {"datum": 15.16}, "y": {"datum": 0.471}, "text": {"value": "no MCyR"}}},
        {"data": {"values": [{}]}, "mark": {"type": "rect", "fill": "white", "stroke": "black", "strokeWidth": 2.5}, "encoding": {"x": {"datum": 1.3}, "x2": {"datum": 16.69}, "y": {"datum": 0.329}, "y2": {"datum": -0.015}}},
        {"data": {"values": [{}]}, "mark": {"type": "text", "align": "left"}, "encoding": {"x": {"datum": 1.65}, "y": {"datum": 0.2817}, "text": {"value": "5 year OS"}}},
        {"data": {"values": [{}]}, "mark": {"type": "text", "align": "left"}, "encoding": {"x": {"datum": 1.65}, "y": {"datum": 0.2195}, "text": {"value": "CMR/MMR"}}},
        {"data": {"values": [{}]}, "mark": {"type": "text", "align": "left"}, "encoding": {"x": {"datum": 6.84}, "y": {"datum": 0.2195}, "text": {"value": "90.6% (95% CI, 80.1–95.7%)"}}},
        {"data": {"values": [{}]}, "mark": {"type": "text", "align": "left"}, "encoding": {"x": {"datum": 1.65}, "y": {"datum": 0.1573}, "text": {"value": "CCyR/PCyR"}}},
        {"data": {"values": [{}]}, "mark": {"type": "text", "align": "left"}, "encoding": {"x": {"datum": 6.84}, "y": {"datum": 0.1573}, "text": {"value": "68.3% (95% CI, 49.9–81.2%)"}}},
        {"data": {"values": [{}]}, "mark": {"type": "text", "align": "left"}, "encoding": {"x": {"datum": 1.65}, "y": {"datum": 0.0951}, "text": {"value": "no MCyR"}}},
        {"data": {"values": [{}]}, "mark": {"type": "text", "align": "left"}, "encoding": {"x": {"datum": 6.84}, "y": {"datum": 0.0951}, "text": {"value": "42.8% (95% CI, 25.7–58.9%)"}}},
        {"data": {"values": [{}]}, "mark": {"type": "text", "align": "left", "fontStyle": "italic"}, "encoding": {"x": {"datum": 1.65}, "y": {"datum": 0.0329}, "text": {"value": "p"}}},
        {"data": {"values": [{}]}, "mark": {"type": "text", "align": "left", "dx": 28}, "encoding": {"x": {"datum": 1.65}, "y": {"datum": 0.0329}, "text": {"value": "< 0.001"}}},
        {"data": {"values": [{}]}, "mark": {"type": "text", "align": "left", "fontSize": 47}, "encoding": {"x": {"datum": -4.36}, "y": {"datum": 1.0}, "text": {"value": "(D)"}}},
        {"data": {"values": [{}]}, "mark": {"type": "text", "align": "left", "fontSize": 29}, "encoding": {"x": {"datum": -0.64}, "y": {"datum": -0.2452}, "text": {"value": "Number at risk"}}},
        {"data": {"values": [{}]}, "mark": {"type": "text", "align": "right", "fontSize": 29, "dx": -24}, "encoding": {"x": {"datum": -0.64}, "y": {"datum": -0.3177}, "text": {"value": "CMR/MMR"}}},
        {"data": {"values": [{}]}, "mark": {"type": "text", "align": "right", "fontSize": 29, "dx": -24}, "encoding": {"x": {"datum": -0.64}, "y": {"datum": -0.3654}, "text": {"value": "CCyR/PCyR"}}},
        {"data": {"values": [{}]}, "mark": {"type": "text", "align": "right", "fontSize": 29, "dx": -24}, "encoding": {"x": {"datum": -0.64}, "y": {"datum": -0.4132}, "text": {"value": "No MCyR"}}},
        {"data": {"name": "risk"}, "transform": [{"filter": "datum.panel === 'D' && datum.group === 'CMR/MMR'"}], "mark": {"type": "text", "fontSize": 28, "dx": -4}, "encoding": {"x": {"field": "t", "type": "quantitative"}, "y": {"datum": -0.3177}, "text": {"field": "n"}}},
        {"data": {"name": "risk"}, "transform": [{"filter": "datum.panel === 'D' && datum.group === 'CCyR/PCyR'"}], "mark": {"type": "text", "fontSize": 28, "dx": -4}, "encoding": {"x": {"field": "t", "type": "quantitative"}, "y": {"datum": -0.3654}, "text": {"field": "n"}}},
        {"data": {"name": "risk"}, "transform": [{"filter": "datum.panel === 'D' && datum.group === 'No MCyR'"}], "mark": {"type": "text", "fontSize": 28, "dx": -4}, "encoding": {"x": {"field": "t", "type": "quantitative"}, "y": {"datum": -0.4132}, "text": {"field": "n"}}}
      ]
    },
    {
      "width": 850, "height": 922.4,
      "layer": [
        {"data": {"name": "table"}, "transform": [{"filter": "datum.shade"}],
         "mark": {"type": "rect", "color": "#d9d9d9"},
         "encoding": {
           "x": {"datum": 0, "scale": {"domain": [-0.0848, 0.4478], "nice": false, "zero": false}, "axis": null},
           "x2": {"datum": 1},
           "y": {"field": "rid", "type": "ordinal", "scale": {"type": "band", "domain": ["r00","r01","r02","r03","r04","r05","r06","r07","r08","r09","r10","r11","r12","r13","r14","r15","r16","r17","r18"], "paddingInner": 0, "paddingOuter": 0.397, "align": 1, "round": false}, "axis": null}
         }},
        {"data": {"name": "table"}, "mark": {"type": "text", "fontSize": 35, "fontWeight": "bold"},
         "encoding": {"x": {"datum": 0.2273}, "y": {"field": "rid", "type": "ordinal", "bandPosition": 0.5}, "text": {"field": "var"}}},
        {"data": {"name": "table"}, "mark": {"type": "text", "fontSize": 35},
         "encoding": {"x": {"datum": 0.5539}, "y": {"field": "rid", "type": "ordinal", "bandPosition": 0.5}, "text": {"field": "cat"}}},
        {"data": {"name": "table"}, "mark": {"type": "text", "fontSize": 35},
         "encoding": {"x": {"datum": 0.7701}, "y": {"field": "rid", "type": "ordinal", "bandPosition": 0.5}, "text": {"field": "hr"}}},
        {"data": {"name": "table"}, "mark": {"type": "text", "fontSize": 35},
         "encoding": {"x": {"datum": 0.9402}, "y": {"field": "rid", "type": "ordinal", "bandPosition": 0.5}, "text": {"field": "p"}}},
        {"data": {"values": [{}]}, "mark": {"type": "text", "fontSize": 35, "fontWeight": "bold"},
         "encoding": {"x": {"datum": 0.7701}, "y": {"datum": "r00", "type": "ordinal", "bandPosition": 0.5}, "text": {"value": "Hazard ratio (95%CI)"}}},
        {"data": {"values": [{}]}, "mark": {"type": "text", "fontSize": 35, "fontWeight": "bold", "fontStyle": "italic", "align": "right"},
         "encoding": {"x": {"datum": 0.9155}, "y": {"datum": "r00", "type": "ordinal", "bandPosition": 0.5}, "text": {"value": "p"}}},
        {"data": {"values": [{}]}, "mark": {"type": "text", "fontSize": 35, "fontWeight": "bold", "align": "left", "dx": 10},
         "encoding": {"x": {"datum": 0.9155}, "y": {"datum": "r00", "type": "ordinal", "bandPosition": 0.5}, "text": {"value": "value"}}},
        {"data": {"values": [{}]}, "mark": {"type": "rule", "color": "black", "strokeWidth": 3},
         "encoding": {"x": {"datum": 0}, "x2": {"datum": 1}, "y": {"datum": "r00", "type": "ordinal", "bandPosition": 0}}},
        {"data": {"values": [{}]}, "mark": {"type": "rule", "color": "black", "strokeWidth": 6},
         "encoding": {"x": {"datum": 0}, "x2": {"datum": 1}, "y": {"datum": "r01", "type": "ordinal", "bandPosition": 0}}},
        {"data": {"values": [{}]}, "mark": {"type": "rule", "color": "black", "strokeWidth": 5},
         "encoding": {"x": {"datum": 0}, "x2": {"datum": 1}, "y": {"datum": "r18", "type": "ordinal", "bandPosition": 1}}},
        {"data": {"values": [{}]}, "mark": {"type": "text", "fontSize": 42},
         "encoding": {"x": {"datum": -0.042}, "y": {"datum": "r00", "type": "ordinal", "bandPosition": 0.1}, "text": {"value": "(E)"}}}
      ]
    }
  ],
  "config": {
    "font": "Liberation Sans",
    "view": {"stroke": null},
    "axis": {"domainColor": "black", "domainWidth": 2, "tickColor": "black", "tickWidth": 2, "tickSize": 16, "labelFontSize": 27, "labelColor": "black", "titleFontSize": 28.5, "titleFontWeight": "normal", "titleColor": "black", "grid": false, "labelFlush": false, "labelOverlap": false, "labelBound": false},
    "axisX": {"labelPadding": 27, "titlePadding": 19},
    "axisY": {"labelPadding": 26, "titlePadding": 10},
    "text": {"color": "black", "fontSize": 33.5, "baseline": "middle"}
  }
}
